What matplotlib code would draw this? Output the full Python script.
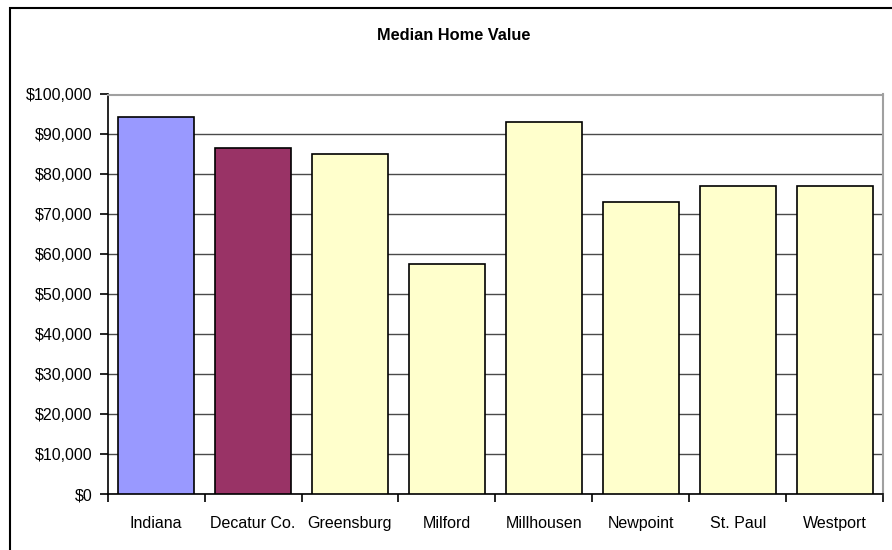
import matplotlib
matplotlib.use("Agg")
import matplotlib.pyplot as plt
from matplotlib.patches import Rectangle
from matplotlib.ticker import FuncFormatter, MultipleLocator, FixedLocator

# Median home value by area
places = ["Indiana", "Decatur Co.", "Greensburg", "Milford", "Millhousen",
          "Newpoint", "St. Paul", "Westport"]
values = [94300, 86600, 85100, 57600, 93100, 73100, 77100, 77100]
bar_colors = ["#9999FF", "#993366", "#FFFFCC", "#FFFFCC", "#FFFFCC",
              "#FFFFCC", "#FFFFCC", "#FFFFCC"]

plt.rcParams["font.family"] = ["Liberation Sans", "DejaVu Sans"]

W, H = 892, 550
fig = plt.figure(figsize=(W / 100, H / 100), dpi=100)
fig.patch.set_facecolor("white")

# chart-area frame (runs off the right and bottom edges)
fig.patches.append(Rectangle((10 / W, -0.1), 1.2, 1 - 8 / H + 0.1,
                             transform=fig.transFigure, fill=False,
                             edgecolor="black", linewidth=1.5, zorder=0))

left, right = 107.7 / W, 883 / W
bottom, top = 1 - 494 / H, 1 - 94.5 / H
ax = fig.add_axes([left, bottom, right - left, top - bottom])

x = range(len(places))
ax.bar(x, values, width=0.785, color=bar_colors, edgecolor="black",
       linewidth=1.2, zorder=3)

ax.set_xlim(-0.5, len(places) - 0.5)
ax.set_ylim(0, 100000)

ax.yaxis.set_major_locator(MultipleLocator(10000))
ax.yaxis.set_major_formatter(FuncFormatter(lambda v, p: f"${v:,.0f}"))
ax.grid(axis="y", color="#4a4a4a", linewidth=1.0, zorder=1)
ax.set_axisbelow(True)

ax.set_xticks(list(x))
ax.set_xticklabels(places)
ax.xaxis.set_minor_locator(FixedLocator([i - 0.5 for i in range(len(places) + 1)]))
ax.tick_params(axis="x", which="major", length=0, pad=16, labelsize=11.5,
               colors="black")
ax.tick_params(axis="x", which="minor", length=6, width=1.2, direction="out",
               color="black")
ax.tick_params(axis="y", which="major", length=6, width=1.2, direction="out",
               pad=5, labelsize=11.5, color="black")

for side in ("top", "right"):
    ax.spines[side].set_color("#a0a0a0")
    ax.spines[side].set_linewidth(1.5)
for side in ("left", "bottom"):
    ax.spines[side].set_color("black")
    ax.spines[side].set_linewidth(1.2)

fig.text(454 / W, 1 - 35 / H, "Median Home Value", ha="center", va="center",
         fontsize=11.8, fontweight="bold")

fig.savefig("out.png", dpi=100, facecolor="white")
